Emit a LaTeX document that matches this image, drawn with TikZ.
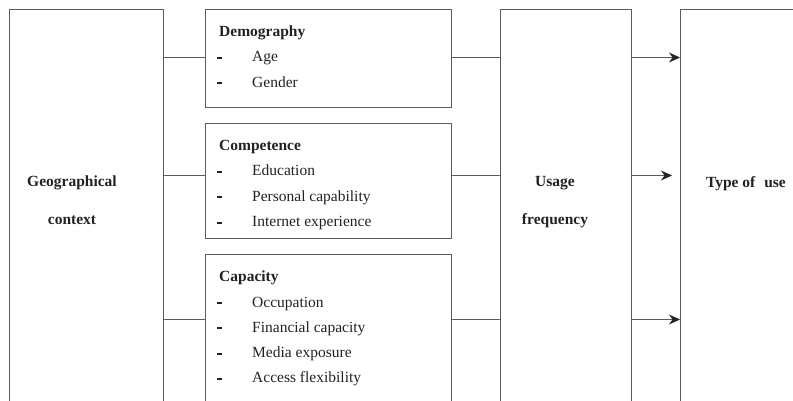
\documentclass[tikz,border=0pt]{standalone}
\usepackage{fontspec}
\setmainfont{Liberation Serif}
\usetikzlibrary{arrows.meta,positioning}
\definecolor{linegray}{HTML}{5C5C5C}
\definecolor{textdark}{HTML}{222222}
\newcommand{\itm}[1]{\makebox[35pt][l]{\rule[3pt]{5pt}{2pt}}#1}

\begin{document}
\begin{tikzpicture}[x=1pt,y=-1pt,
        box/.style={draw=linegray,line width=1.1pt,rectangle,inner sep=0pt,anchor=north west},
        title/.style={text=textdark,font=\bfseries\fontsize{15.5}{18}\selectfont,inner sep=0pt,anchor=base},
        head/.style={title,anchor=base west},
        item/.style={text=textdark,font=\fontsize{15.5}{18}\selectfont,inner sep=0pt,anchor=base west},
        link/.style={draw=linegray,line width=1.1pt},
        arrow/.style={link,-{Stealth[length=11pt,width=10pt,color=black!85]}}]
    \useasboundingbox (0,0) rectangle (793,401);
    \clip (0,0) rectangle (793,401);
    % boxes
    \node[box,minimum width=154pt,minimum height=430pt] (geo) at (9,9) {};
    \node[box,minimum width=246pt,minimum height=98pt] (demo) at (205,9) {};
    \node[box,minimum width=246pt,minimum height=115pt] (comp) at (205,123) {};
    \node[box,minimum width=246pt,minimum height=200pt] (capa) at (205,254) {};
    \node[box,minimum width=131pt,minimum height=430pt] (usage) at (500,9) {};
    \node[box,minimum width=130pt,minimum height=430pt] (type) at (680,9) {};
    % texts
    \node[title] (geo-t1) at (72,186.5) {Geographical};
    \node[title] (geo-t2) at (72,225) {context};
    \node[title] (usage-t1) at (555,186.5) {Usage};
    \node[title] (usage-t2) at (555,225) {frequency};
    \node[title] (type-t) at (746,187) {Type of\hspace{9pt}use};
    % lists
    \node[head] (demo-h) at (219,36.7) {Demography};
    \foreach \t [count=\i] in {Age,Gender}
        \node[item] (demo-\i) at (217,36.7+25.3*\i) {\itm{\t}};
    \node[head] (comp-h) at (219,150.7) {Competence};
    \foreach \t [count=\i] in {Education,Personal capability,Internet experience}
        \node[item] (comp-\i) at (217,150.7+25.3*\i) {\itm{\t}};
    \node[head] (capa-h) at (219,281.7) {Capacity};
    \foreach \t [count=\i] in {Occupation,Financial capacity,Media exposure,Access flexibility}
        \node[item] (capa-\i) at (217,281.7+25.3*\i) {\itm{\t}};
    % connectors
    \coordinate (r1) at (0,57.5);
    \coordinate (r2) at (0,175.5);
    \coordinate (r3) at (0,319.5);
    \foreach \r/\b in {r1/demo,r2/comp,r3/capa} {
        \draw[link] (geo.east |- \r) -- (\b.west |- \r);
        \draw[link] (\b.east |- \r) -- (usage.west |- \r);
    }
    \draw[arrow] (usage.east |- r1) -- (type.west |- r1);
    \draw[arrow,shorten >=8pt] (usage.east |- r2) -- (type.west |- r2);
    \draw[arrow] (usage.east |- r3) -- (type.west |- r3);
\end{tikzpicture}
\end{document}
